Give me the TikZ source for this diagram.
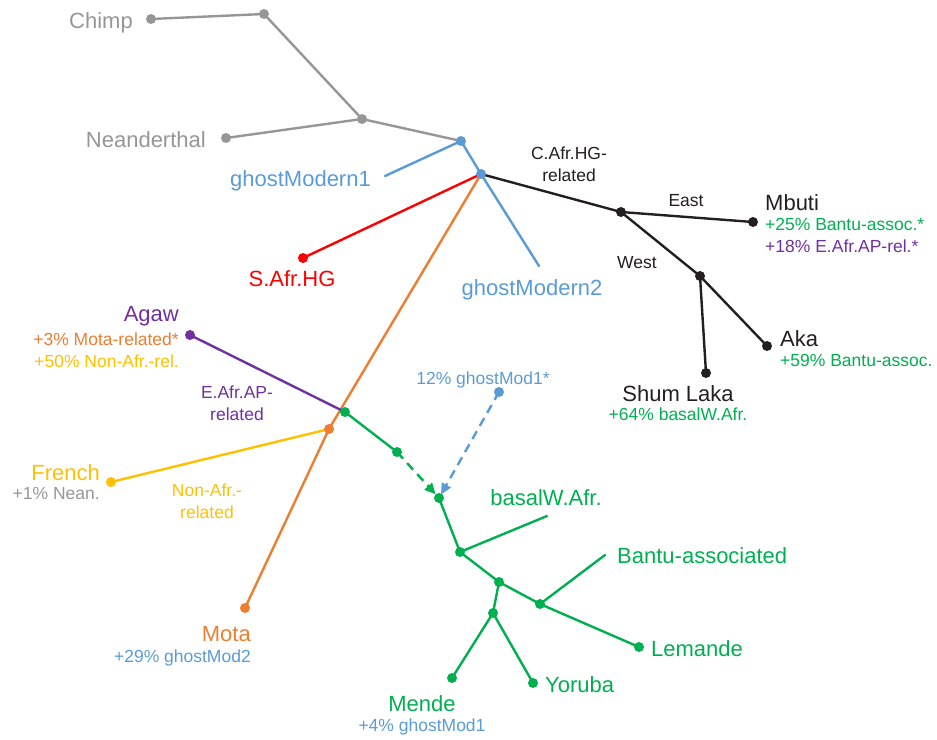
\documentclass[tikz,border=0pt]{standalone}
\usepackage{fontspec}
\setmainfont{Liberation Sans}
\usetikzlibrary{arrows.meta}
\definecolor{cgray}{RGB}{150,150,150}
\definecolor{cblue}{RGB}{91,155,213}
\definecolor{cred}{RGB}{255,0,0}
\definecolor{corange}{RGB}{237,125,49}
\definecolor{cpurple}{RGB}{112,48,160}
\definecolor{cyellow}{RGB}{255,192,0}
\definecolor{cgreen}{RGB}{0,176,80}
\definecolor{cblack}{RGB}{35,31,32}
\tikzset{
  br/.style={line width=2.4pt, line cap=round},
  dot/.style={circle, fill=#1, inner sep=0pt, minimum size=10pt},
  big/.style={font=\fontsize{22}{24}\selectfont, inner sep=0pt, text height=16pt, text depth=0pt},
  small/.style={font=\fontsize{17.5}{22}\selectfont, inner sep=0pt, text height=12.5pt, text depth=0pt},
  twoline/.style={font=\fontsize{17.5}{22}\selectfont, inner sep=0pt, align=center},
  dsh/.style={line width=2.4pt, dash pattern=on 9pt off 6pt, -{Triangle[length=11pt,width=10pt]}},
}
\begin{document}
\begin{tikzpicture}[x=1pt,y=-1pt]
\useasboundingbox (0,0) rectangle (937,739);
% coordinates
\coordinate (chimp) at (151,19);
\coordinate (g1) at (264,14);
\coordinate (g2) at (362,119);
\coordinate (nean) at (226,138);
\coordinate (b1) at (461,141);
\coordinate (gm1) at (385,176);
\coordinate (b2) at (481,174);
\coordinate (gm2) at (539,266);
\coordinate (safr) at (303,258);
\coordinate (k1) at (621,212);
\coordinate (mbuti) at (753,222);
\coordinate (k2) at (700,276);
\coordinate (aka) at (767,346);
\coordinate (shum) at (706,373);
\coordinate (o1) at (329,429);
\coordinate (mota) at (245,608);
\coordinate (gr1) at (345,412);
\coordinate (agaw) at (190,335);
\coordinate (french) at (111,482);
\coordinate (gr2) at (397,452);
\coordinate (gr3) at (439,498);
\coordinate (ghost) at (499,392);
\coordinate (gr4) at (460,552);
\coordinate (basal) at (547,516);
\coordinate (gr5) at (499,582);
\coordinate (gr6) at (540,604);
\coordinate (bantu) at (605,555);
\coordinate (lemande) at (639,647);
\coordinate (gr7) at (493,613);
\coordinate (mende) at (452,678);
\coordinate (yoruba) at (533,683);
% branches
\draw[br, cgray] (chimp) -- (g1) -- (g2) -- (b1);
\draw[br, cgray] (nean) -- (g2);
\draw[br, cblue] (gm1) -- (b1) -- (b2) -- (gm2);
\draw[br, cred] (b2) -- (safr);
\draw[br, cblack] (b2) -- (k1) -- (mbuti);
\draw[br, cblack] (k1) -- (k2) -- (aka);
\draw[br, cblack] (k2) -- (shum);
\draw[br, corange] (b2) -- (o1) -- (mota);
\draw[br, cpurple] (agaw) -- (gr1);
\draw[br, cyellow] (french) -- (o1);
\draw[br, cgreen] (gr1) -- (gr2);
\draw[dsh, cgreen, shorten >=5pt] (gr2) -- (gr3);
\draw[dsh, cblue, shorten >=4pt] (ghost) -- (gr3);
\draw[br, cgreen] (gr3) -- (gr4) -- (basal);
\draw[br, cgreen] (gr4) -- (gr5) -- (gr6) -- (bantu);
\draw[br, cgreen] (gr6) -- (lemande);
\draw[br, cgreen] (gr5) -- (gr7) -- (mende);
\draw[br, cgreen] (gr7) -- (yoruba);
% dots
\foreach \p in {chimp,g1,g2,nean} \node[dot=cgray] at (\p) {};
\foreach \p in {b1,b2,ghost} \node[dot=cblue] at (\p) {};
\node[dot=cred] at (safr) {};
\foreach \p in {k1,mbuti,k2,aka,shum} \node[dot=cblack] at (\p) {};
\foreach \p in {o1,mota} \node[dot=corange] at (\p) {};
\node[dot=cpurple] at (agaw) {};
\node[dot=cyellow] at (french) {};
\foreach \p in {gr1,gr2,gr3,gr4,gr5,gr6,gr7,lemande,mende,yoruba} \node[dot=cgreen] at (\p) {};
% labels
\node[big, cgray, anchor=east] (tchimp) at (133,20) {Chimp};
\node[big, cgray, anchor=east] (tnean) at (206,139) {Neanderthal};
\node[big, cblue, anchor=east] (tgm1) at (371,178) {ghostModern1};
\node[big, cblue] (tgm2) at (532,287) {ghostModern2};
\node[big, cred] (tsafr) at (292,278) {S.Afr.HG};
\node[twoline, cblack] (tcafr) at (569,164) {C.Afr.HG-\\related};
\node[small, cblack] (teast) at (686,200) {East};
\node[small, cblack] (twest) at (637,262) {West};
\node[big, cblack, anchor=west] (tmbuti) at (765,202) {Mbuti};
\node[small, cgreen, anchor=west] (tmb1) at (765,224) {+25\% Bantu-assoc.*};
\node[small, cpurple, anchor=west] (tmb2) at (765,246) {+18\% E.Afr.AP-rel.*};
\node[big, cblack, anchor=west] (taka) at (780,338) {Aka};
\node[small, cgreen, anchor=west] (taka1) at (780,360) {+59\% Bantu-assoc.};
\node[big, cblack] (tshum) at (678,393) {Shum Laka};
\node[small, cgreen] (tshum1) at (678,414) {+64\% basalW.Afr.};
\node[big, cpurple, anchor=east] (tagaw) at (179,313) {Agaw};
\node[small, corange, anchor=east] (tagaw1) at (179,339) {+3\% Mota-related*};
\node[small, cyellow, anchor=east] (tagaw2) at (179,361) {+50\% Non-Afr.-rel.};
\node[twoline, cpurple] (teafr) at (237,403) {E.Afr.AP-\\related};
\node[big, cyellow, anchor=east] (tfrench) at (100,472) {French};
\node[small, cgray, anchor=east] (tfrench1) at (100,493) {+1\% Nean.};
\node[twoline, cyellow] (tnonafr) at (207,501) {Non-Afr.-\\related};
\node[small, cblue] (tghost) at (483,378) {12\% ghostMod1*};
\node[big, cgreen] (tbasal) at (546,497) {basalW.Afr.};
\node[big, cgreen, anchor=west] (tbantu) at (617,555) {Bantu-associated};
\node[big, cgreen, anchor=west] (tlemande) at (651,648) {Lemande};
\node[big, cgreen, anchor=west] (tyoruba) at (545,684) {Yoruba};
\node[big, cgreen] (tmende) at (422,703) {Mende};
\node[small, cblue] (tmende1) at (422,725) {+4\% ghostMod1};
\node[big, corange, anchor=east] (tmota) at (251,633) {Mota};
\node[small, cblue, anchor=east] (tmota1) at (251,656) {+29\% ghostMod2};
\end{tikzpicture}
\end{document}
